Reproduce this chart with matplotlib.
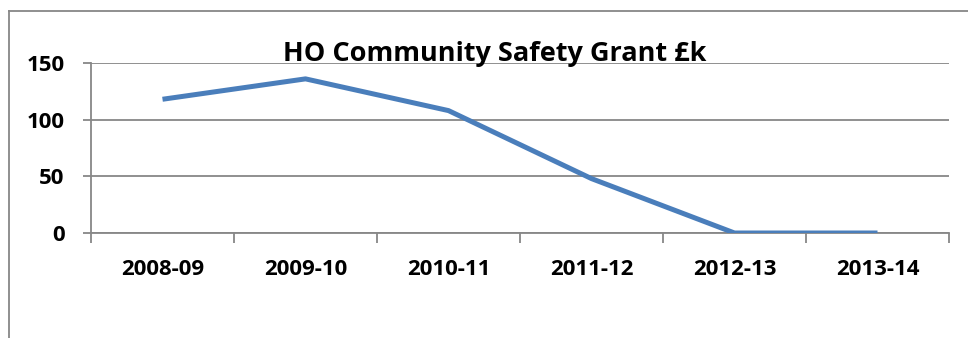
import matplotlib
matplotlib.use("Agg")
import matplotlib.pyplot as plt
from matplotlib.lines import Line2D
import matplotlib.ticker as tick

# data
years = ["2008-09", "2009-10", "2010-11", "2011-12", "2012-13", "2013-14"]
grant = [118, 136, 108, 48, 0, 0]
yticks = [0, 50, 100, 150]

plt.rcParams['font.family'] = ['Open Sans', 'DejaVu Sans']
plt.rcParams['font.weight'] = 'bold'

fig = plt.figure(figsize=(9.68, 3.38), dpi=100)
ax = fig.add_axes([91/968, 1-233/338, (949-91)/968, (233-63)/338])

xs = [i + 0.5 for i in range(len(years))]
ax.plot(xs, grant, color='#4a7ebb', lw=3.6, solid_capstyle='butt', solid_joinstyle='round', zorder=3)

grey = '#878787'
ax.set_xlim(0, len(years))
ax.set_ylim(0, 150)
ax.set_yticks(yticks)
ax.yaxis.grid(True, color=grey, lw=1.3)
ax.set_axisbelow(True)

ax.xaxis.set_major_locator(tick.FixedLocator(range(len(years) + 1)))
ax.xaxis.set_major_formatter(tick.NullFormatter())
ax.xaxis.set_minor_locator(tick.FixedLocator(xs))
ax.xaxis.set_minor_formatter(tick.FixedFormatter(years))
ax.tick_params(axis='x', which='major', length=7, width=1.3, color=grey, direction='out')
ax.tick_params(axis='x', which='minor', length=0, pad=19, labelsize=16)
ax.tick_params(axis='y', length=6, width=1.3, color=grey, pad=13, labelsize=16)

for s in ['top', 'right']:
    ax.spines[s].set_visible(False)
for s in ['left', 'bottom']:
    ax.spines[s].set_color(grey)
    ax.spines[s].set_linewidth(1.3)

# chart area border (cut off at right and bottom in the reference)
fig.add_artist(Line2D([9/968, 1], [1-11/338, 1-11/338], color=grey, lw=1.3))
fig.add_artist(Line2D([9/968, 9/968], [0, 1-11/338], color=grey, lw=1.3))

fig.text(495/968, 1-54/338, "HO Community Safety Grant £k", ha='center', va='center',
         fontsize=19.5, fontweight='bold')

fig.savefig("out.png", dpi=100)
